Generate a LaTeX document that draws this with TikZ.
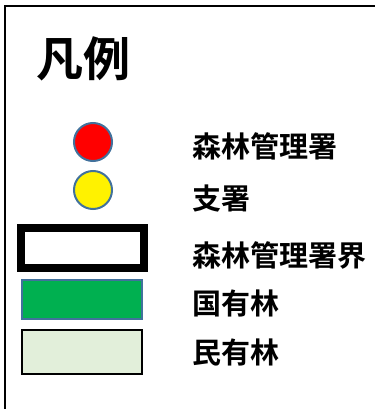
\documentclass[tikz,border=0pt]{standalone}
\usepackage{fontspec}
\usepackage{tikz}
\newfontfamily\cjk{Noto Sans CJK JP}[BoldFont={Noto Sans CJK JP Bold}]
\definecolor{rimblue}{RGB}{65,113,156}
\definecolor{kokuyu}{RGB}{0,176,80}
\definecolor{minyu}{RGB}{226,239,218}

\begin{document}
\begin{tikzpicture}[x=1pt, y=-1pt,
    legtext/.style={anchor=west, inner sep=0pt, font=\cjk\bfseries\fontsize{29}{29}\selectfont},
    sitedot/.style={circle, draw=rimblue, line width=2pt, minimum size=38pt, inner sep=0pt},
    swatch/.style={rectangle, minimum width=120pt, inner sep=0pt}]
            \useasboundingbox (0, 0) rectangle (375, 409);
            % frame, runs off the right and bottom edge
            \draw[line width=2pt] (5, 409) -- (5, 6) -- (375, 6);
            \node[anchor=west, inner sep=0pt, font=\cjk\bfseries\fontsize{47}{47}\selectfont] (title) at (36, 59) {凡例};
            % symbols
            \node[sitedot, fill=red] (office) at (93, 142) {};
            \node[sitedot, fill=yellow] (branch) at (93, 190) {};
            \node[swatch, draw=black, line width=8pt, minimum width=123pt, minimum height=40pt, fill=white] (bound) at (82.5, 248) {};
            \node[swatch, draw=rimblue, line width=2pt, minimum height=39pt, fill=kokuyu] (national) at (82, 299.5) {};
            \node[swatch, draw=black, line width=2pt, minimum height=44pt, fill=minyu] (private) at (82, 352) {};
            % texts
            \node[legtext] (officetxt) at (192, 146) {森林管理署};
            \node[legtext] (branchtxt) at (192, 199) {支署};
            \node[legtext] (boundtxt) at (192, 255) {森林管理署界};
            \node[legtext] (nationaltxt) at (192, 303) {国有林};
            \node[legtext] (privatetxt) at (192, 352) {民有林};
        \end{tikzpicture}
\end{document}
